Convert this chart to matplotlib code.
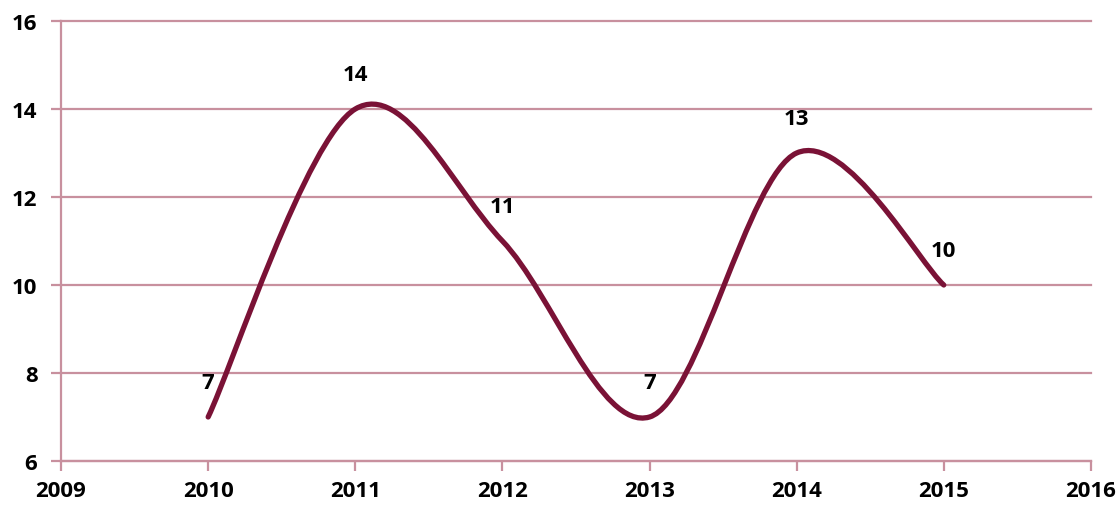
import numpy as np
import matplotlib
matplotlib.use("Agg")
import matplotlib.pyplot as plt
from matplotlib.path import Path
from matplotlib.patches import PathPatch

years = [2010, 2011, 2012, 2013, 2014, 2015]
values = [7, 14, 11, 7, 13, 10]

line_color = '#7A1236'
grid_color = '#C8909E'
plt.rcParams['font.family'] = ['Open Sans', 'DejaVu Sans']


def smooth_path(xs, ys):
    # Excel-style smoothed line: cubic Bezier, Catmull-Rom control points
    pts = np.column_stack([xs, ys]).astype(float)
    n = len(pts)
    verts = [pts[0]]
    codes = [Path.MOVETO]
    for i in range(n - 1):
        p0 = pts[i - 1] if i > 0 else pts[i]
        p1 = pts[i]
        p2 = pts[i + 1]
        p3 = pts[i + 2] if i + 2 < n else pts[i + 1]
        c1 = p1 + (p2 - p0) / 6.0
        c2 = p2 - (p3 - p1) / 6.0
        verts += [c1, c2, p2]
        codes += [Path.CURVE4] * 3
    return Path(verts, codes)


fig = plt.figure(figsize=(11.2, 5.06), dpi=100)
ax = fig.add_axes([0.0545, 0.087, 0.9195, 0.8695])

ax.set_xlim(2009, 2016)
ax.set_ylim(6, 16)
ax.set_yticks(range(6, 17, 2))
ax.set_xticks(range(2009, 2017))

ax.yaxis.grid(True, color=grid_color, linewidth=1.6)
for gl in ax.get_ygridlines():
    gl.set_clip_on(False)
ax.set_axisbelow(True)
for s in ['top', 'right']:
    ax.spines[s].set_visible(False)
for s in ['left', 'bottom']:
    ax.spines[s].set_color(grid_color)
    ax.spines[s].set_linewidth(1.6)
ax.tick_params(colors=grid_color, width=1.6, length=7, labelcolor='black',
               labelsize=16, pad=7)
ax.tick_params(axis='y', pad=10)
for lab in ax.get_xticklabels() + ax.get_yticklabels():
    lab.set_fontweight('bold')

patch = PathPatch(smooth_path(years, values), facecolor='none', edgecolor=line_color,
                  linewidth=3.8, capstyle='round', joinstyle='round', zorder=3)
ax.add_patch(patch)

for x, y in zip(years, values):
    ax.annotate(str(y), (x, y), xytext=(0, 25), textcoords='offset points',
                ha='center', va='center', fontsize=16, fontweight='bold',
                color='black', zorder=4)

fig.savefig('out.png', dpi=100)
